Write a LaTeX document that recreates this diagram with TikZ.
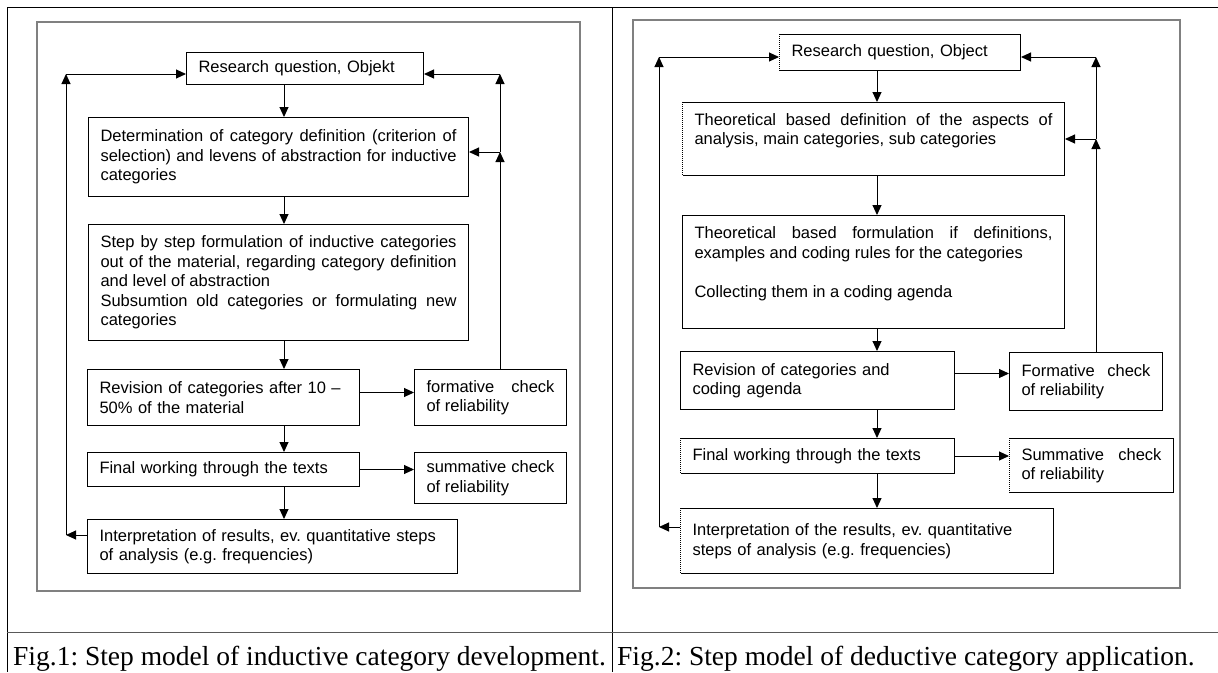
\documentclass[tikz,border=0pt]{standalone}
\usepackage{fontspec}
\setmainfont{Liberation Serif}
\newfontfamily\boxfont{Liberation Sans}
\usetikzlibrary{arrows.meta}
\hyphenpenalty=10000
\exhyphenpenalty=10000
\tolerance=9999
\frenchspacing

\begin{document}
\begin{tikzpicture}[x=1pt, y=-1pt,
		stepbox/.style={draw, line width=1pt, anchor=north west, inner xsep=12pt, inner ysep=0pt,
			align=justify, font=\boxfont\fontsize{16.5}{19.5}\selectfont},
		outerframe/.style={draw=gray, line width=2pt},
		arr/.style={line width=1pt, -{Triangle[length=10pt,width=9pt]}},
		figcaption/.style={anchor=base west, inner sep=0pt, font=\fontsize{27.5}{30}\selectfont}]
	\useasboundingbox (0,0) rectangle (1218,672);

	% table round the two figures
	\draw[line width=1pt] (7,7) -- (1218,7);
	\draw[line width=1pt] (7,7) -- (7,672);
	\draw[line width=1pt] (612,7) -- (612,672);
	\draw[line width=1pt, gray!70!black] (7,632) -- (1218,632);

	% Fig.1: inductive
	\draw[outerframe] (37,22) rectangle (580,591);
	\node[stepbox, text width=213pt, minimum height=32pt, align=left] (r1) at (186,52) {Research question, Objekt};
	\node[stepbox, text width=356pt, minimum height=79pt] (d1) at (88,117) {Determination of category definition (criterion of selection) and levens of abstraction for inductive categories};
	\node[stepbox, text width=356pt, minimum height=116pt] (s1) at (88,224) {Step by step formulation of inductive categories out of the material, regarding category definition and level of abstraction\\Subsumtion old categories or formulating new categories};
	\node[stepbox, text width=248pt, minimum height=56pt, align=left] (v1) at (87,369) {Revision of categories after 10 – 50\% of the material};
	\node[stepbox, text width=128pt, minimum height=56pt] (fo1) at (414,369) {formative check of reliability};
	\node[stepbox, text width=248pt, minimum height=34pt, align=left] (fi1) at (87,452) {Final working through the texts};
	\node[stepbox, text width=128pt, minimum height=51pt] (su1) at (414,452) {summative check of reliability};
	\node[stepbox, text width=346pt, minimum height=54pt, align=left] (in1) at (87,519) {Interpretation of results, ev. quantitative steps of analysis (e.g. frequencies)};

	\coordinate (c1) at (284,0);
	\coordinate (va1) at ([yshift=5pt]v1.east);
	\coordinate (lbot1) at (66,535);
	\coordinate (ltop1) at (66,74);
	\coordinate (rmid1) at (500,152);
	\coordinate (rtop1) at (500,74);

	\draw[arr] (c1 |- r1.south) -- (c1 |- d1.north);
	\draw[arr] (c1 |- d1.south) -- (c1 |- s1.north);
	\draw[arr] (c1 |- s1.south) -- (c1 |- v1.north);
	\draw[arr] (c1 |- v1.south) -- (c1 |- fi1.north);
	\draw[arr] (c1 |- fi1.south) -- (c1 |- in1.north);
	\draw[arr] (va1) -- (fo1.west |- va1);
	\draw[arr] (fi1.east) -- (su1.west |- fi1.east);

	\draw[arr] (in1.west |- lbot1) -- (lbot1);
	\draw[arr] (lbot1) -- (ltop1);
	\draw[arr] (ltop1) -- (r1.west |- ltop1);
	\draw[arr] (rmid1 |- fo1.north) -- (rmid1);
	\draw[arr] (rmid1) -- (d1.east |- rmid1);
	\draw[arr] (rmid1) -- (rtop1);
	\draw[arr] (rtop1) -- (r1.east |- rtop1);

	% Fig.2: deductive
	\draw[outerframe] (633,20) rectangle (1180,588);
	\node[stepbox, text width=217pt, minimum height=36pt, align=left] (r2) at (779,34) {Research question, Object};
	\node[stepbox, text width=358pt, minimum height=73pt] (d2) at (682,102) {Theoretical based definition of the aspects of analysis, main categories, sub categories\\ \mbox{}};
	\node[stepbox, text width=358pt, minimum height=113pt] (s2) at (682,215) {Theoretical based formulation if definitions, examples and coding rules for the categories\\[19.5pt] Collecting them in a coding agenda\\ \mbox{}};
	\node[stepbox, text width=250pt, minimum height=58pt, align=left] (v2) at (680,351) {Revision of categories and\\coding agenda};
	\node[stepbox, text width=129pt, minimum height=58pt] (fo2) at (1009,352) {Formative check of reliability};
	\node[stepbox, text width=250pt, minimum height=35pt, align=left] (fi2) at (680,438) {Final working through the texts};
	\node[stepbox, text width=140pt, minimum height=54pt] (su2) at (1009,438) {Summative check of reliability};
	\node[stepbox, text width=349pt, minimum height=65pt, align=left] (in2) at (680,508) {Interpretation of the results, ev. quantitative steps of analysis (e.g. frequencies)};

	% dotted left edges
	\foreach \n in {r2,d2,fi2,su2,in2} {
		\draw[white, line width=1.6pt] (\n.north west) -- (\n.south west);
		\draw[densely dotted, line width=1pt] (\n.north west) -- (\n.south west);
	}

	\coordinate (c2) at (877,0);
	\coordinate (va2) at ([yshift=7pt]v2.east);
	\coordinate (lbot2) at (659,527);
	\coordinate (ltop2) at (659,57);
	\coordinate (rmid2) at (1096,139);
	\coordinate (rtop2) at (1096,57);

	\draw[arr] (c2 |- r2.south) -- (c2 |- d2.north);
	\draw[arr] (c2 |- d2.south) -- (c2 |- s2.north);
	\draw[arr] (c2 |- s2.south) -- (c2 |- v2.north);
	\draw[arr] (c2 |- v2.south) -- (c2 |- fi2.north);
	\draw[arr] (c2 |- fi2.south) -- (c2 |- in2.north);
	\draw[arr] (va2) -- (fo2.west |- va2);
	\draw[arr] (fi2.east) -- (su2.west |- fi2.east);

	\draw[arr] (in2.west |- lbot2) -- (lbot2);
	\draw[arr] (lbot2) -- (ltop2);
	\draw[arr] (ltop2) -- (r2.west |- ltop2);
	\draw[arr] (rmid2 |- fo2.north) -- (rmid2);
	\draw[arr] (rmid2) -- (d2.east |- rmid2);
	\draw[arr] (rmid2) -- (rtop2);
	\draw[arr] (rtop2) -- (r2.east |- rtop2);

	% captions
	\node[figcaption] (cap1) at (13,665) {Fig.1: Step model of inductive category development.};
	\node[figcaption] (cap2) at (617,665) {Fig.2: Step model of deductive category application.};
\end{tikzpicture}
\end{document}
